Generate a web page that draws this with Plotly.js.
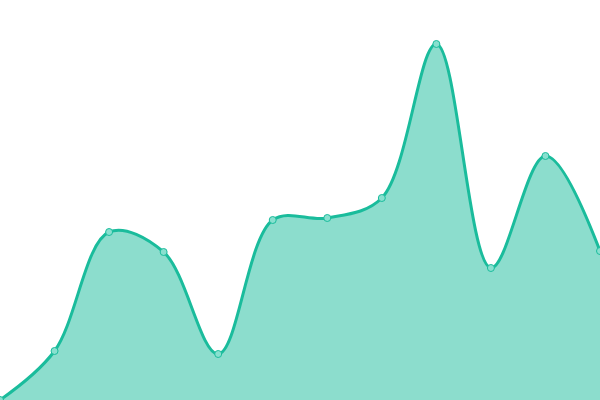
<!DOCTYPE html>
<html>
<head>
<meta charset="utf-8">
<script src="https://cdn.plot.ly/plotly-3.0.1.min.js"></script>
<style>
  html, body { margin: 0; padding: 0; background: #fff; }
  #chart { width: 600px; height: 400px; }
</style>
</head>
<body>
<div id="chart"></div>
<script>
// ── Data ─────────────────────────────────────
const xIndex = [0, 1, 2, 3, 4, 5, 6, 7, 8, 9, 10, 11];
const values = [0, 49, 168, 148, 46, 180, 182, 202, 356, 132, 244, 149];

// ── Area trace ───────────────────────────────
const trace = {
  type: "scatter",
  mode: "lines+markers",
  x: xIndex,
  y: values,
  fill: "tozeroy",
  fillcolor: "rgba(26,188,156,0.5)",
  line: { shape: "spline", smoothing: 1, color: "#1abc9c", width: 3 },
  marker: {
    size: 7,
    color: "#88e0cf",
    line: { color: "#1abc9c", width: 1 },
  },
  hoverinfo: "none",
};

const layout = {
  width: 600,
  height: 400,
  margin: { t: 0, r: 0, b: 0, l: 0 },
  paper_bgcolor: "#ffffff",
  plot_bgcolor: "#ffffff",
  showlegend: false,
  xaxis: { range: [0, 11], visible: false, fixedrange: true },
  yaxis: { range: [0, 400], visible: false, fixedrange: true },
};

Plotly.newPlot("chart", [trace], layout, { staticPlot: true });
</script>
</body>
</html>
